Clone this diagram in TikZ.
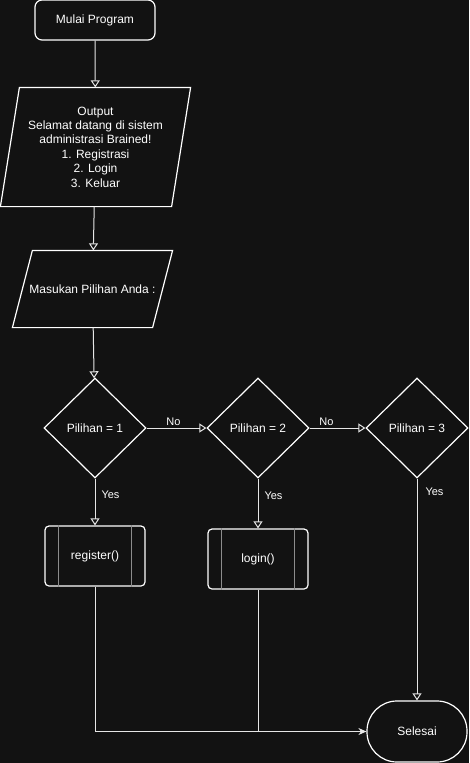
\documentclass[tikz,border=0pt]{standalone}
\usepackage{fontspec}
\setmainfont{Liberation Sans}
\usetikzlibrary{shapes.geometric, arrows.meta}
\definecolor{bgcol}{HTML}{121212}
\definecolor{linecol}{HTML}{E6E6E6}
\definecolor{barcol}{HTML}{8C8C8C}
\tikzset{>={Triangle[open, length=7pt, width=9pt]}}
\tikzset{
    base/.style={draw=white, line width=1.2pt, text=white, fill=bgcol,
        font=\fontsize{12}{14.4}\selectfont},
    startbox/.style={base, rectangle, rounded corners=7pt, minimum width=120pt, minimum height=40pt},
    iobox/.style={base, draw=none, fill=none, rectangle, align=center, inner sep=0pt},
    decision/.style={base, diamond, aspect=1, inner sep=0pt, minimum width=102pt, minimum height=100pt},
    procbox/.style={base, rectangle, rounded corners=4pt, minimum width=100pt, minimum height=60pt},
    endbox/.style={base, rectangle, rounded corners=30pt, minimum width=100pt, minimum height=61pt},
    flow/.style={draw=linecol, line width=1pt, ->},
    lbl/.style={text=white, font=\fontsize{11}{13}\selectfont, inner sep=2pt}
}

\begin{document}
\begin{tikzpicture}[x=1pt, y=-1pt]
    \fill[bgcol] (0,0) rectangle (469,763);
    \useasboundingbox (0,0) rectangle (469,763);

    \node[startbox] (start) at (95,20) {Mulai Program};
    \node[iobox, minimum width=170pt, minimum height=118pt] (out) at (95.5,147)
        {Output\\Selamat datang di sistem\\administrasi Brained!\\1. Registrasi\\2. Login\\3. Keluar};
    \node[iobox, minimum width=139pt, minimum height=76pt] (inp) at (92.5,289) {Masukan Pilihan Anda :};
    \node[decision] (pil1) at (95,428) {Pilihan = 1};
    \node[decision] (pil2) at (258,428) {Pilihan = 2};
    \node[decision] (pil3) at (417,428) {Pilihan = 3};
    \node[procbox] (reg) at (95,556) {register()};
    \node[procbox] (login) at (258,559) {login()};
    \node[endbox] (end) at (417,731.5) {Selesai};

    % jajaran genjang input/output
    \foreach \n/\s in {out/9.5, inp/10}
        \draw[white, line width=1.2pt] ([xshift=\s pt]\n.north west) -- ([xshift=\s pt]\n.north east)
            -- ([xshift=-\s pt]\n.south east) -- ([xshift=-\s pt]\n.south west) -- cycle;

    % garis samping proses
    \foreach \p in {reg, login} {
        \draw[barcol, line width=1pt] ([xshift=14pt]\p.north west) -- ([xshift=14pt]\p.south west);
        \draw[barcol, line width=1pt] ([xshift=-14pt]\p.north east) -- ([xshift=-14pt]\p.south east);
    }

    \draw[flow] (start) -- (out);
    \draw[flow] (out) -- (inp);
    \draw[flow] (inp) -- (pil1);
    \draw[flow] (pil1) -- node[lbl, above, pos=0.45] {No} (pil2);
    \draw[flow] (pil2) -- node[lbl, above, pos=0.3] {No} (pil3);
    \draw[flow] (pil1) -- node[lbl, right, pos=0.35, xshift=4pt] {Yes} (reg);
    \draw[flow] (pil2) -- node[lbl, right, pos=0.35, xshift=4pt] {Yes} (login);
    \draw[flow] (pil3) -- node[lbl, right, pos=0.06, xshift=6pt] {Yes} (end);
    \draw[draw=linecol, line width=1pt, -{Stealth[length=8pt, width=7pt]}] (reg) |- (end);
    \draw[draw=linecol, line width=1pt] (login) -- (login |- end.west);
\end{tikzpicture}
\end{document}
